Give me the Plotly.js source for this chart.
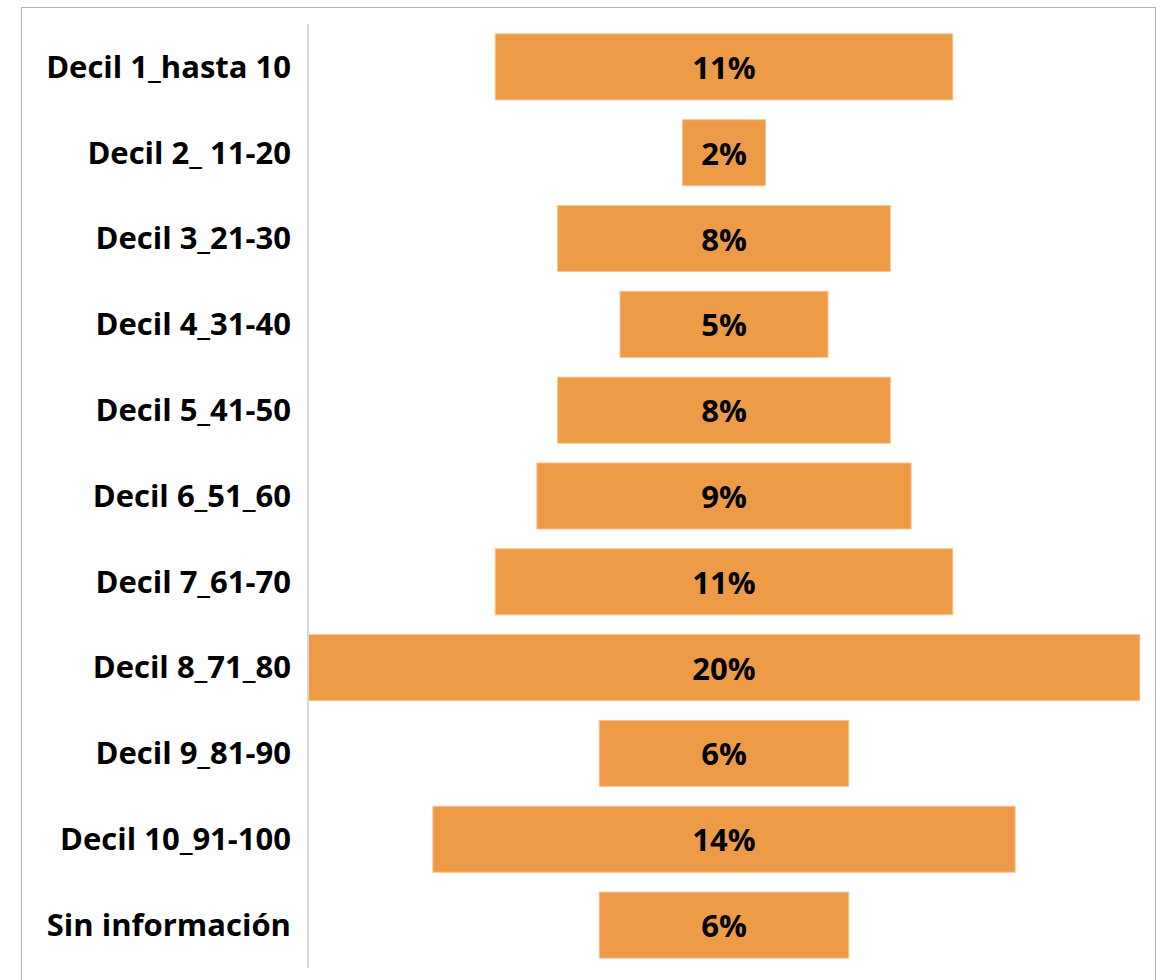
<!DOCTYPE html>
<html>
<head>
<meta charset="utf-8">
<script src="https://cdn.plot.ly/plotly-3.0.1.min.js"></script>
<style>
html,body{margin:0;padding:0;background:#fff;}
#frame{position:absolute;left:21px;top:7px;width:1135px;height:990px;border:1.5px solid #b0b0b0;border-bottom:none;box-sizing:border-box;}
#chart{position:absolute;left:0;top:0;width:1165px;height:980px;}
</style>
</head>
<body>
<div id="frame"></div>
<div id="chart"></div>
<script>
const categories = ["Decil 1_hasta 10","Decil 2_ 11-20","Decil 3_21-30","Decil 4_31-40","Decil 5_41-50","Decil 6_51_60","Decil 7_61-70","Decil 8_71_80","Decil 9_81-90","Decil 10_91-100","Sin información"];
const values = [11, 2, 8, 5, 8, 9, 11, 20, 6, 14, 6];

const trace = {
  type: 'funnel',
  y: categories,
  x: values,
  orientation: 'h',
  texttemplate: '%{x}%',
  textposition: 'inside',
  insidetextanchor: 'middle',
  textfont: {family: 'Open Sans, sans-serif', size: 31, color: '#000', weight: 'bold'},
  marker: {color: '#EE9B48', line: {color: '#F7C594', width: 1}},
  connector: {visible: false},
  hoverinfo: 'none'
};

const layout = {
  width: 1165, height: 980,
  margin: {l: 308, r: 25, t: 24, b: 12},
  paper_bgcolor: 'rgba(0,0,0,0)',
  plot_bgcolor: 'rgba(0,0,0,0)',
  showlegend: false,
  funnelgap: 0.23,
  xaxis: {range: [-10, 10], visible: false, fixedrange: true},
  yaxis: {
    showline: false, showgrid: false, zeroline: false,
    ticks: '', ticklabelstandoff: 16,
    tickfont: {family: 'Open Sans, sans-serif', size: 31, color: '#000', weight: 'bold'},
    fixedrange: true
  },
  shapes: [{type: 'line', xref: 'paper', yref: 'paper', x0: 0, x1: 0, y0: 0, y1: 1, line: {color: '#d9d9d9', width: 2}}]
};

Plotly.newPlot('chart', [trace], layout, {displayModeBar: false, staticPlot: true});
</script>
</body>
</html>
